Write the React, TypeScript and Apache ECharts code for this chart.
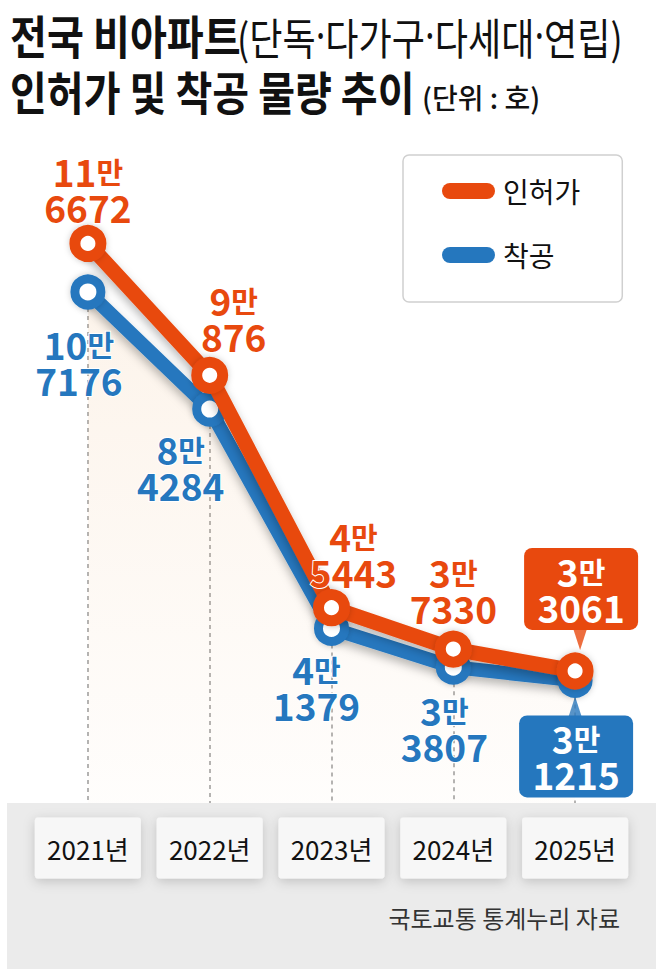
import React, { useEffect, useRef } from "react";
import * as echarts from "echarts";

const years = ["2021년", "2022년", "2023년", "2024년", "2025년"];
const permitValues = [116672, 90876, 45443, 37330, 33061];
const startValues = [107176, 84284, 41379, 33807, 31215];
const seriesNames = ["인허가", "착공"];

// label layout (pixel offsets from each point)
const permitLabelOffsets = [[0, -54], [24, -57], [22, -54], [0, -59], [6, -82]];
const startLabelOffsets = [[-9, 70], [-29, 58], [-15, 59], [-9, 61], [1, 76]];

const ORANGE = "#e8490e";
const BLUE = "#2577be";
const FONT = '"Noto Sans CJK KR", "Noto Sans", sans-serif';

function fmt(v: number, key: string) {
  const man = Math.floor(v / 10000);
  const rest = v % 10000;
  return `{${key}n|${man}}{${key}m|만}\n{${key}n|${rest}}`;
}

function richFor(key: string, color: string) {
  return {
    [key + "n"]: { fontSize: 37, fontWeight: "bold", color, fontFamily: FONT, lineHeight: 36 },
    [key + "m"]: { fontSize: 29, fontWeight: "bold", color, fontFamily: FONT, lineHeight: 36 },
  };
}

const rich = { ...richFor("o", ORANGE), ...richFor("b", BLUE), ...richFor("w", "#ffffff") };

function makeData(values: number[], offsets: number[][], key: string, boxColor: string) {
  return values.map((v, i) => {
    const last = i === values.length - 1;
    return {
      value: v,
      label: {
        show: true,
        position: "inside",
        offset: offsets[i],
        formatter: fmt(v, last ? "w" : key),
        rich,
        align: "center",
        verticalAlign: "middle",
        ...(last
          ? {
              backgroundColor: boxColor,
              borderRadius: 8,
              width: 114,
              height: 72,
              padding: [5, 0, 5, 0],
            }
          : { textBorderColor: "#fff", textBorderWidth: 2 }),
      },
    };
  });
}

const titleMain1 = "전국 비아파트";
const titleSub1Parts = ["(단독", "다가구", "다세대", "연립)"];
const titleMain2 = "인허가 및 착공 물량 추이";
const titleSub2 = "(단위 : 호)";
const sourceText = "국토교통 통계누리 자료";

export default function App() {
  const ref = useRef<HTMLDivElement>(null);
  useEffect(() => {
    if (!ref.current) return;
    const chart = echarts.init(ref.current, null, { renderer: "svg" });
    const lastIdx = years.length - 1;
    const pill = "path://M8,0H45A8,8,0,0,1,45,16H8A8,8,0,0,1,8,0Z";
    chart.setOption({
      animation: false,
      backgroundColor: "#ffffff",
      grid: { left: 27, right: 20, top: 73, bottom: 129 },
      xAxis: {
        type: "category",
        data: years,
        boundaryGap: true,
        z: 10,
        axisLine: { show: false },
        axisTick: { show: false },
        splitLine: { show: false },
        axisLabel: {
          interval: 0,
          margin: 8,
          verticalAlign: "middle",
          align: "center",
          width: 106,
          height: 61,
          lineHeight: 61,
          backgroundColor: "#f7f7f7",
          borderRadius: 3,
          shadowColor: "rgba(0,0,0,0.18)",
          shadowBlur: 12,
          shadowOffsetY: 3,
          fontSize: 26,
          color: "#111",
          fontFamily: FONT,
        },
      },
      yAxis: { type: "value", min: 0, max: 150000, show: false, splitLine: { show: false } },
      legend: {
        orient: "vertical",
        left: 403,
        top: 155,
        padding: [21, 42, 32, 39],
        itemWidth: 53,
        itemHeight: 16,
        itemGap: 34,
        backgroundColor: "#fff",
        borderColor: "#d0d0d0",
        borderWidth: 1.5,
        borderRadius: 6,
        selectedMode: false,
        itemStyle: { borderWidth: 0, shadowBlur: 0 },
        textStyle: { fontSize: 28, color: "#111", fontFamily: FONT, lineHeight: 30, padding: [0, 0, 0, 3] },
        data: [
          { name: seriesNames[0], icon: pill, itemStyle: { color: ORANGE } },
          { name: seriesNames[1], icon: pill, itemStyle: { color: BLUE } },
        ],
      },
      series: [
        {
          name: seriesNames[1],
          type: "line",
          z: 2,
          data: makeData(startValues, startLabelOffsets, "b", BLUE),
          symbol: "circle",
          symbolSize: 26,
          lineStyle: { width: 14, color: BLUE, shadowColor: "rgba(0,0,0,0.28)", shadowBlur: 10, shadowOffsetY: 5 },
          itemStyle: { color: "#fff", borderColor: BLUE, borderWidth: 9, shadowColor: "rgba(0,0,0,0.2)", shadowBlur: 6 },
          areaStyle: {
            color: new echarts.graphic.LinearGradient(0, 0, 0, 1, [
              { offset: 0, color: "rgba(238,180,120,0.22)" },
              { offset: 1, color: "rgba(238,180,120,0.02)" },
            ]),
          },
          markLine: {
            silent: true,
            z: 1,
            symbol: "none",
            label: { show: false },
            lineStyle: { color: "#9a9a9a", type: [4, 4], width: 1.5 },
            data: startValues.map((v, i) => [{ coord: [years[i], v] }, { coord: [years[i], 0] }]),
          },
        },
        {
          name: seriesNames[0],
          type: "line",
          z: 3,
          data: makeData(permitValues, permitLabelOffsets, "o", ORANGE),
          symbol: "circle",
          symbolSize: 26,
          lineStyle: { width: 15, color: ORANGE, shadowColor: "rgba(0,0,0,0.28)", shadowBlur: 10, shadowOffsetY: 5 },
          itemStyle: { color: "#fff", borderColor: ORANGE, borderWidth: 11, shadowColor: "rgba(0,0,0,0.2)", shadowBlur: 6 },
        },
        {
          name: "pointer-o",
          type: "scatter",
          z: 4,
          silent: true,
          symbol: "triangle",
          symbolSize: [13, 20],
          symbolRotate: 180,
          symbolOffset: [5, -31],
          itemStyle: { color: ORANGE },
          data: [[years[lastIdx], permitValues[lastIdx]]],
        },
        {
          name: "pointer-b",
          type: "scatter",
          z: 1,
          silent: true,
          symbol: "triangle",
          symbolSize: [13, 20],
          symbolOffset: [0, 26],
          itemStyle: { color: BLUE },
          data: [[years[lastIdx], startValues[lastIdx]]],
        },
      ],
      graphic: [
        { type: "rect", z: 5, shape: { x: 7, y: 803, width: 649, height: 166 }, style: { fill: "#ebebeb" } },
        {
          type: "text", x: 10, y: 34, scaleX: 0.873, z: 6,
          style: { text: titleMain1, fontSize: 46, fontWeight: "bold", fill: "#111", fontFamily: FONT, textVerticalAlign: "middle", verticalAlign: "middle" },
        },
        {
          type: "text", x: 237, y: 36, scaleX: 0.84, z: 6,
          style: {
            text: titleSub1Parts.map((p) => `{p|${p}}`).join("{d|·}"),
            fill: "#111",
            textVerticalAlign: "middle",
            verticalAlign: "middle",
            rich: {
              p: { fontSize: 43, fontWeight: 400, fontFamily: FONT, fill: "#111", color: "#111" },
              d: { fontSize: 43, fontWeight: 400, fontFamily: '"Noto Sans", "DejaVu Sans", sans-serif', fill: "#111", color: "#111" },
            },
          },
        },
        {
          type: "text", x: 10, y: 90, scaleX: 0.87, z: 6,
          style: { text: titleMain2, fontSize: 46, fontWeight: "bold", fill: "#111", fontFamily: FONT, textVerticalAlign: "middle", verticalAlign: "middle" },
        },
        {
          type: "text", x: 422, y: 97, z: 6,
          style: { text: titleSub2, fontSize: 28, fontWeight: 500, fill: "#111", fontFamily: FONT, textVerticalAlign: "middle", verticalAlign: "middle" },
        },
        {
          type: "text", x: 620, y: 917, z: 6,
          style: { text: sourceText, fontSize: 24, fill: "#333", fontFamily: FONT, textAlign: "right", align: "right", textVerticalAlign: "middle", verticalAlign: "middle" },
        },
      ],
    });
    return () => chart.dispose();
  }, []);
  return (
    <div
      ref={ref}
      style={{ position: "fixed", left: 0, top: 0, width: 656, height: 969, background: "#fff" }}
    />
  );
}
